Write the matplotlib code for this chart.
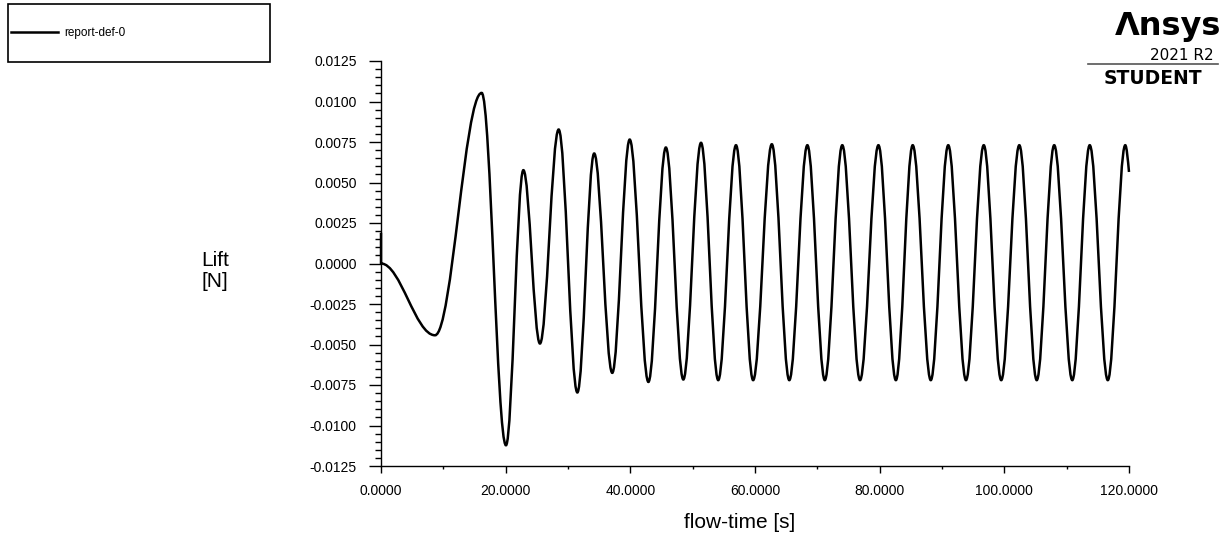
import numpy as np
from matplotlib import pyplot as plt
from matplotlib.path import Path
from matplotlib.patches import PathPatch, Rectangle
from matplotlib.lines import Line2D
from matplotlib.ticker import MultipleLocator, FuncFormatter

plt.rcParams['font.family'] = ['Liberation Sans', 'DejaVu Sans']
plt.rcParams['axes.unicode_minus'] = False

# report-def-0 : lift history (peaks / troughs)
spike_value = 0.0019   # start-up spike at t = 0
flow_time = [0.0, 8.66, 16.15, 20.05, 22.84, 25.5, 28.5, 31.5, 34.2, 37.1,
             39.9, 42.9, 45.7, 48.5, 51.34, 54.1, 56.95, 59.7, 62.7, 65.5,
             68.4, 71.2, 74.0, 76.85, 79.8, 82.6, 85.3, 88.2, 91.0, 93.85,
             96.7, 99.5, 102.4, 105.2, 108.0, 110.9, 113.7, 116.6, 119.4, 120.0]
lift = [0.0, -0.00443, 0.01053, -0.01122, 0.00576, -0.00494, 0.00827, -0.00796, 0.00679, -0.00675,
        0.00765, -0.00731, 0.00716, -0.00716, 0.00745, -0.0072, 0.0073, -0.0072, 0.00736, -0.0072,
        0.0073, -0.0072, 0.0073, -0.0072, 0.0073, -0.0072, 0.0073, -0.0072, 0.0073, -0.0072,
        0.0073, -0.0072, 0.0073, -0.0072, 0.0073, -0.0072, 0.0073, -0.0072, 0.0073, 0.00565]

fig = plt.figure(figsize=(12.25, 5.39), dpi=100)
ax = fig.add_axes([381/1225, 1-466/539, 748/1225, 405/539])

# smooth curve through the turning points (flat tangent at each extremum)
k = 0.363
verts = [(0.0, spike_value), (flow_time[0], lift[0])]
codes = [Path.MOVETO, Path.LINETO]
for i in range(len(flow_time)-1):
    t0, v0 = flow_time[i], lift[i]
    t1, v1 = flow_time[i+1], lift[i+1]
    dt = t1 - t0
    c1 = (t0 + k*dt, v0)
    if i == len(flow_time)-2:
        c2 = (t1 - 0.3*dt, v1 + 0.45*(v0 - v1))
    else:
        c2 = (t1 - k*dt, v1)
    verts += [c1, c2, (t1, v1)]
    codes += [Path.CURVE4]*3
curve = PathPatch(Path(verts, codes), fill=False, ec='black', lw=1.8, clip_on=False)
ax.add_patch(curve)

ax.set_xlim(0, 120)
ax.set_ylim(-0.0125, 0.0125)
for s in ['top', 'right']:
    ax.spines[s].set_visible(False)
for s in ['left', 'bottom']:
    ax.spines[s].set_linewidth(1.0)

fmt = FuncFormatter(lambda v, p: '%.4f' % (round(v, 6) + 0.0))
ax.xaxis.set_major_locator(MultipleLocator(20))
ax.xaxis.set_minor_locator(MultipleLocator(10))
ax.yaxis.set_major_locator(MultipleLocator(0.0025))
ax.yaxis.set_minor_locator(MultipleLocator(0.0005))
ax.xaxis.set_major_formatter(fmt)
ax.yaxis.set_major_formatter(fmt)
ax.tick_params(axis='y', which='major', length=8.5, width=1, labelsize=10, pad=9, direction='out')
ax.tick_params(axis='y', which='minor', length=4, width=1, direction='out')
ax.tick_params(axis='x', which='major', length=5, width=1, labelsize=10, pad=8, direction='out')
ax.tick_params(axis='x', which='minor', length=2.5, width=1, direction='out')

ax.set_xlabel('flow-time [s]', fontsize=15, va='center')
ax.xaxis.set_label_coords((740-381)/748, (466-522)/405)
ax.set_ylabel('Lift\n[N]', fontsize=15, rotation=0, ha='center', va='center', linespacing=1.1)
ax.yaxis.set_label_coords((215-381)/748, (466-271)/405)

# legend box top-left
fig.patches.append(Rectangle((8/1225, 1-62/539), 262/1225, 58/539, transform=fig.transFigure,
                             fill=False, ec='black', lw=1.2))
handle = Line2D([], [], color='black', lw=1.8)
fig.legend([handle], ['report-def-0'], loc='center left', frameon=False, fontsize=8.5,
           bbox_to_anchor=(11/1225, 1-33/539), handlelength=4.0, handletextpad=0.5,
           borderpad=0, borderaxespad=0)

# Ansys watermark
fig.text(1221/1225, 1-26/539, 'Λnsys', fontsize=23, fontweight='heavy', family='DejaVu Sans',
         ha='right', va='center')
fig.text(1214/1225, 1-55/539, '2021 R2', fontsize=11, family='DejaVu Sans', ha='right', va='center')
fig.add_artist(Line2D([1088/1225, 1218/1225], [1-63.5/539, 1-63.5/539], transform=fig.transFigure,
                      color='#555555', lw=1.2))
fig.text(1153/1225, 1-79/539, 'STUDENT', fontsize=13.5, fontweight='bold', family='DejaVu Sans',
         ha='center', va='center')

fig.savefig('out.png', dpi=100)
